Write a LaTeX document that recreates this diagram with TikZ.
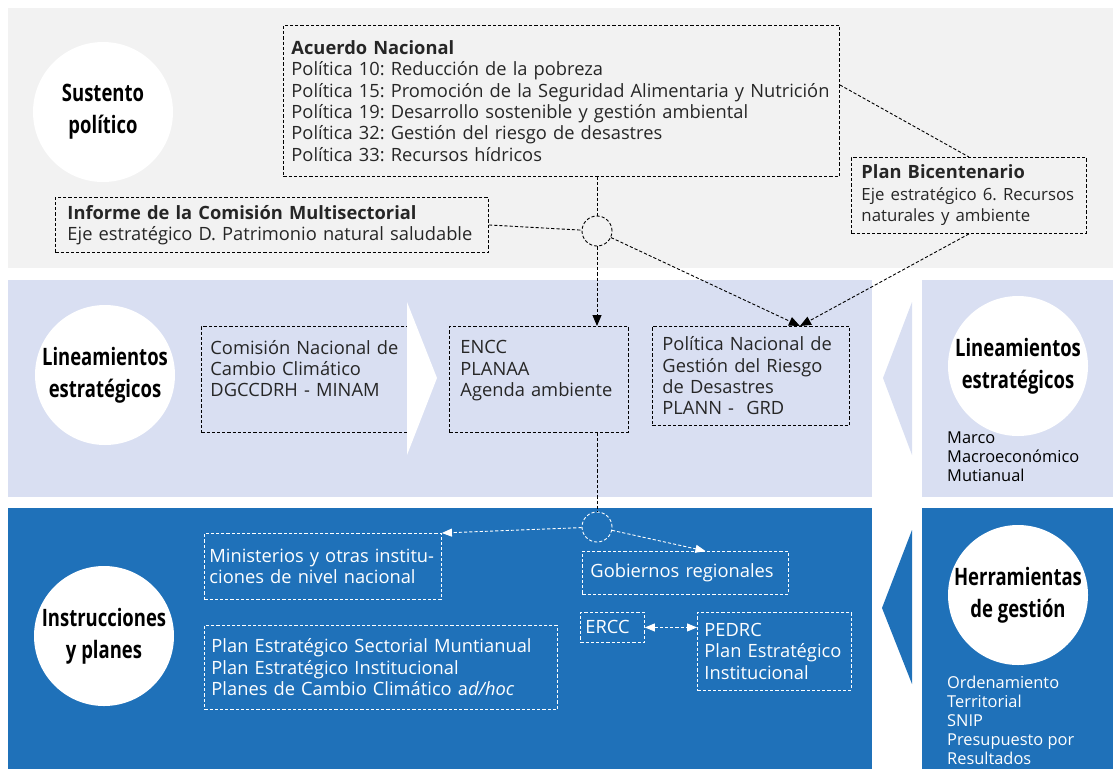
\documentclass[tikz,border=0pt]{standalone}
\usepackage{fontspec}
\setmainfont{Open Sans}
\newfontfamily\circfont[FakeStretch=0.77]{Open Sans}
\usetikzlibrary{arrows.meta,positioning}
\definecolor{fondogris}{RGB}{242,242,242}
\definecolor{fondoclaro}{RGB}{217,223,242}
\definecolor{fondoazul}{RGB}{31,113,185}
\newcommand{\hondo}[1]{\rule[-#1]{0pt}{#1}}
\frenchspacing

\begin{document}
\begin{tikzpicture}[x=1pt,y=-1pt,font=\fontsize{18.3}{21.4}\selectfont,
 caja/.style={rectangle,draw=black,dash pattern=on 3.2pt off 2pt,line width=.9pt,anchor=north west,align=left,inner ysep=0pt,text=black!85},
 cajab/.style={caja,draw=white,text=white},
 circulo/.style={circle,fill=white,minimum size=140pt,inner sep=0pt,align=center,font=\circfont\bfseries\fontsize{24}{32}\selectfont},
 nudo/.style={circle,draw=black,dash pattern=on 3.2pt off 2pt,line width=.9pt,minimum size=30pt,inner sep=0pt},
 linea/.style={draw=black,dash pattern=on 3.2pt off 2pt,line width=.9pt},
 flecha/.style={linea,-{Triangle[length=11pt,width=9pt]}},
 flechab/.style={linea,draw=white,-{Triangle[length=10pt,width=8pt]}},
 notita/.style={anchor=north west,align=left,inner sep=0pt,font=\fontsize{16.4}{19}\selectfont}]
\useasboundingbox (0,0) rectangle (1113,769);
% bandas
\fill[fondogris] (8,8) rectangle (1113,268);
\fill[fondoclaro] (8,280) rectangle (872,497);
\fill[fondoclaro] (922,280) rectangle (1113,497);
\fill[fondoazul] (8,508) rectangle (872,769);
\fill[fondoazul] (922,508) rectangle (1113,769);
\fill[fondoclaro] (912,302) -- (883,378) -- (912,455) -- cycle;
\fill[fondoazul] (912,530) -- (882,608) -- (912,684) -- cycle;
% sustento politico
\node[circulo] (sustento) at (103,112) {Sustento\\político};
\node[caja,text width=540pt,inner xsep=8pt,minimum height=151pt] (acuerdo) at (283,25) {\textbf{Acuerdo Nacional}\\Política 10: Reducción de la pobreza\\Política 15: Promoción de la Seguridad Alimentaria y Nutrición\\Política 19: Desarrollo sostenible y gestión ambiental\\Política 32: Gestión del riesgo de desastres\\Política 33: Recursos hídricos};
\node[caja,text width=409pt,inner xsep=12pt,minimum height=55pt] (informe) at (55,197) {\textbf{Informe de la Comisión Multisectorial}\\Eje estratégico D. Patrimonio natural saludable};
\node[caja,text width=215pt,inner xsep=10pt,minimum height=76pt] (bicentenario) at (851,157) {\textbf{Plan Bicentenario}\\\fontsize{16.8}{21.4}\selectfont Eje estratégico 6. Recursos\\naturales y ambiente};
\node[nudo] (nudo1) at (597,231) {};
% lineamientos
\node[circulo] (lineamientos) at (105,375) {Lineamientos\\estratégicos};
\node[caja,text width=189pt,inner xsep=9pt,minimum height=106pt] (comision) at (201,326) {Comisión Nacional de\\Cambio Climático\\DGCCDRH - MINAM\hondo{22pt}};
\fill[white] (407,302) -- (437,378) -- (407,455) -- cycle;
\node[caja,text width=157pt,inner xsep=11pt,minimum height=106pt] (encc) at (449,326) {ENCC\\PLANAA\\Agenda ambiente\hondo{22pt}};
\node[caja,text width=177pt,inner xsep=10pt,minimum height=99pt] (pngrd) at (652,326) {Política Nacional de\\Gestión del Riesgo\\de Desastres\\PLANN -\ \ GRD};
\node[circulo] (lineamientosb) at (1018,366) {Lineamientos\\estratégicos};
\node[notita] (marco) at (947,432) {Marco\\Macroeconómico\\Mutianual};
% instrucciones
\node[circulo] (instrucciones) at (104,636) {Instrucciones\\y planes};
\node[nudo,draw=white] (nudo2) at (597,527) {};
\node[cajab,text width=227pt,inner xsep=5pt,minimum height=66pt] (ministerios) at (204,533) {Ministerios y otras institu-\\ciones de nivel nacional};
\node[cajab,text width=339pt,inner xsep=7pt,minimum height=84pt] (planes) at (204,625) {Plan Estratégico Sectorial Muntianual\\Plan Estratégico Institucional\\Planes de Cambio Climático a\textit{d/hoc}};
\node[cajab,text width=190pt,inner xsep=8pt,minimum height=43pt] (gobiernos) at (582,551) {Gobiernos regionales};
\node[cajab,text width=54pt,inner xsep=5pt,minimum height=30pt] (ercc) at (580,612) {ERCC};
\node[cajab,text width=140pt,inner xsep=7pt,minimum height=78pt] (pedrc) at (697,612) {PEDRC\\Plan Estratégico\\Institucional};
\node[circulo] (herramientas) at (1018,595) {Herramientas\\de gestión};
\node[notita,text=white] (ordenamiento) at (947,676) {Ordenamiento\\Territorial\\SNIP\\Presupuesto por\\Resultados};
% conectores
\draw[linea] (nudo1.north |- acuerdo.south) -- (nudo1.north);
\draw[linea] (informe.east) -- (nudo1);
\draw[linea] ([yshift=16pt]acuerdo.east) -- (bicentenario.north);
\draw[flecha] (nudo1.south) -- (nudo1.south |- encc.north);
\draw[flecha] (nudo1) -- ([xshift=49pt]pngrd.north);
\draw[flecha] (bicentenario.south) -- ([xshift=49pt]pngrd.north);
\draw[linea] (nudo2.north |- encc.south) -- (nudo2.north);
\draw[flechab] (nudo2) -- (ministerios.north east);
\draw[flechab] (nudo2) -- ([xshift=20pt]gobiernos.north);
\draw[flechab,{Triangle[length=10pt,width=8pt]}-{Triangle[length=10pt,width=8pt]}] (ercc.east) -- (ercc.east -| pedrc.west);
\end{tikzpicture}
\end{document}
